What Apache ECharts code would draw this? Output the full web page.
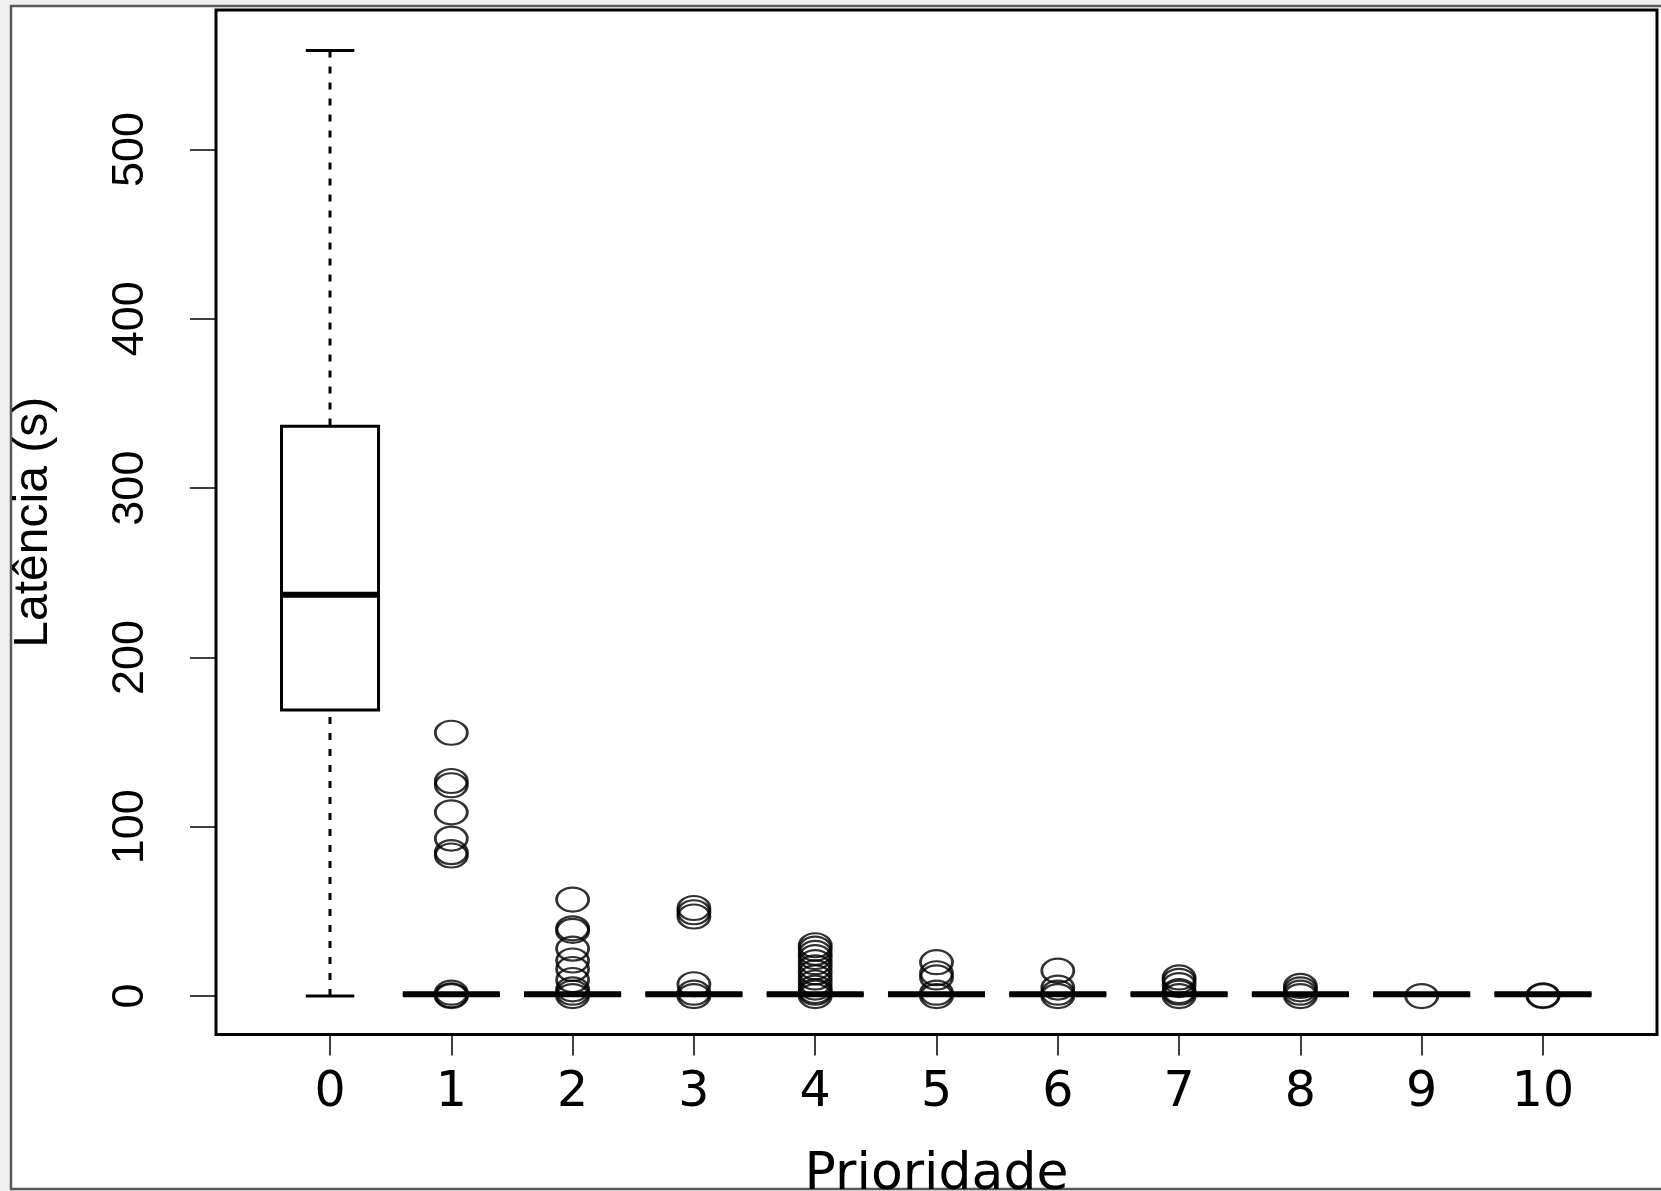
<!DOCTYPE html>
<html>
<head>
<meta charset="utf-8">
<script src="https://cdn.jsdelivr.net/npm/echarts@6/dist/echarts.min.js"></script>
<style>
  html, body { margin: 0; padding: 0; background: #f0f0ee; }
  #chart { width: 1661px; height: 1191px; }
</style>
</head>
<body>
<div id="chart"></div>
<script>
// prioridade 0..10
const prioridades = [0, 1, 2, 3, 4, 5, 6, 7, 8, 9, 10]
// estatisticas do boxplot (latencia em s)
const limiteInferior = [0, 1, 1, 1, 1, 1, 1, 1, 1, 1, 1]
const quartil1 = [169, 1, 1, 1, 1, 1, 1, 1, 1, 1, 1]
const mediana = [237, 1, 1, 1, 1, 1, 1, 1, 1, 1, 1]
const quartil3 = [336.5, 1, 1, 1, 1, 1, 1, 1, 1, 1, 1]
const limiteSuperior = [558.5, 1, 1, 1, 1, 1, 1, 1, 1, 1, 1]
// pontos fora dos bigodes
const outliers = [
  [],
  [155.5, 127, 124.5, 108.5, 93, 85, 83, 2, 0.5, 0],
  [57, 40, 38.5, 28, 21, 16, 9.5, 4, 2, 0],
  [52, 49.5, 47, 7, 2, 0],
  [30, 28, 25.5, 23, 20, 17, 14, 11, 8, 5, 3, 2, 0],
  [20, 13.5, 11, 2, 0],
  [15, 5, 2, 0],
  [11, 9, 6.5, 3, 2, 0],
  [6, 4, 2, 0],
  [0],
  [0, 0.5]
]
const yTicks = [0, 100, 200, 300, 400, 500]

const boxData = prioridades.map((p, i) => [p, limiteInferior[i], quartil1[i], mediana[i], quartil3[i], limiteSuperior[i]])
let pontos = []
outliers.forEach((lista, i) => {
  lista.forEach(v => pontos.push([prioridades[i], v]))
})

function renderBox(params, api) {
  const x = api.value(0)
  const lo = api.value(1), q1 = api.value(2), med = api.value(3), q3 = api.value(4), hi = api.value(5)
  const meia = 0.4, staple = 0.2
  const pt = (vx, vy) => api.coord([vx, vy])
  const linha = (a, b, estilo) => ({
    type: 'line',
    shape: { x1: a[0], y1: a[1], x2: b[0], y2: b[1] },
    style: Object.assign({ stroke: '#000', lineWidth: 2.5 }, estilo)
  })
  const tl = pt(x - meia, q3), br = pt(x + meia, q1)
  return {
    type: 'group',
    children: [
      linha(pt(x, hi), pt(x, q3), { lineDash: [7, 9], lineWidth: 3 }),
      linha(pt(x, lo), pt(x, q1), { lineDash: [7, 9], lineWidth: 3 }),
      linha(pt(x - staple, hi), pt(x + staple, hi), { lineWidth: 3 }),
      linha(pt(x - staple, lo), pt(x + staple, lo), { lineWidth: 3 }),
      {
        type: 'rect',
        shape: { x: tl[0], y: tl[1], width: br[0] - tl[0], height: br[1] - tl[1] },
        style: { fill: 'none', stroke: '#000', lineWidth: 3 }
      },
      linha(pt(x - meia, med), pt(x + meia, med), { lineWidth: 6 })
    ]
  }
}

const elipse = 'path://M0,-100 C55,-100 100,-55 100,0 C100,55 55,100 0,100 C-55,100 -100,55 -100,0 C-100,-55 -55,-100 0,-100 Z'

const chart = echarts.init(document.getElementById('chart'))
chart.setOption({
  animation: false,
  backgroundColor: '#f0f0ee',
  graphic: [{
    type: 'rect',
    z: -10,
    shape: { x: 11, y: 6, width: 1700, height: 1183 },
    style: { fill: '#fff', stroke: '#5a5a5a', lineWidth: 2.5 }
  }],
  grid: {
    left: 216, right: 4, top: 10, bottom: 156.5,
    outerBoundsMode: 'none',
    containLabel: false,
    show: true, borderColor: '#000', borderWidth: 3
  },
  xAxis: {
    type: 'value',
    min: -0.94,
    max: 10.94,
    name: 'Prioridade',
    nameLocation: 'middle',
    nameGap: 115,
    nameTextStyle: { fontFamily: 'DejaVu Sans', fontSize: 52, color: '#000' },
    axisLine: { show: false, onZero: false },
    splitLine: { show: false },
    axisTick: { show: true, length: 21, customValues: prioridades, lineStyle: { color: '#000', width: 1.5 } },
    axisLabel: { customValues: prioridades, margin: 34, fontFamily: 'DejaVu Sans', fontSize: 49, color: '#000' }
  },
  yAxis: {
    type: 'value',
    min: -22.7,
    max: 582.4,
    name: 'Latência (s)',
    nameLocation: 'middle',
    nameGap: 158,
    nameTextStyle: { fontFamily: 'Liberation Sans', fontSize: 48, color: '#000' },
    axisLine: { show: false, onZero: false },
    splitLine: { show: false },
    axisTick: { show: true, length: 26, customValues: yTicks, lineStyle: { color: '#000', width: 1.5 } },
    axisLabel: { customValues: yTicks, rotate: 90, margin: 63, fontFamily: 'Liberation Sans', fontSize: 45, color: '#000' }
  },
  series: [
    {
      type: 'custom',
      renderItem: renderBox,
      data: boxData,
      encode: { x: 0, y: [1, 2, 3, 4, 5] }
    },
    {
      type: 'scatter',
      data: pontos,
      symbol: elipse,
      symbolSize: [32, 24],
      itemStyle: { color: 'rgba(0,0,0,0)', borderColor: '#000', borderWidth: 2.5 }
    }
  ]
})
</script>
</body>
</html>
